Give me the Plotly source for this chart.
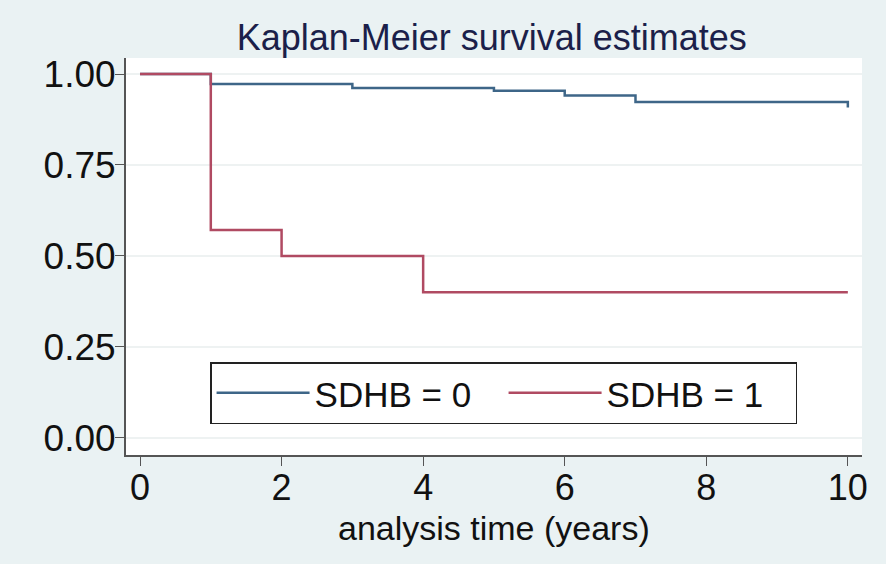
import plotly.graph_objects as go

# Kaplan-Meier step values
time_sdhb0 = [0, 1, 3, 5, 6, 7, 10]
surv_sdhb0 = [1.0, 0.9725, 0.9615, 0.954, 0.941, 0.923, 0.908]

time_sdhb1 = [0, 1, 2, 4, 10]
surv_sdhb1 = [1.0, 0.571, 0.50, 0.40, 0.40]

x_ticks = [0, 2, 4, 6, 8, 10]
y_ticks = [0.0, 0.25, 0.50, 0.75, 1.00]
y_tick_labels = ["0.00", "0.25", "0.50", "0.75", "1.00"]

font_family = "Liberation Sans, Arial, sans-serif"
bg = "#eaf2f3"

fig = go.Figure()
fig.add_trace(go.Scatter(x=time_sdhb0, y=surv_sdhb0, mode="lines", name="SDHB = 0",
                         line=dict(color="#3e6688", width=2.5, shape="hv")))
fig.add_trace(go.Scatter(x=time_sdhb1, y=surv_sdhb1, mode="lines", name="SDHB = 1",
                         line=dict(color="#b04a62", width=2.5, shape="hv")))

fig.update_layout(
    width=886, height=564,
    margin=dict(l=126, r=24, t=58, b=109),
    paper_bgcolor=bg, plot_bgcolor="white",
    font=dict(family=font_family, color="#111111", size=36),
    title=dict(text="Kaplan-Meier survival estimates", x=0.555, xanchor="center",
               y=0.933, yanchor="middle",
               font=dict(size=36, color="#1b1f4a", family=font_family)),
    legend=dict(orientation="h", x=0.513, xanchor="center", y=0.234, yanchor="top",
                bgcolor="white", bordercolor="#222222", borderwidth=1.5,
                font=dict(size=35), entrywidth=184, itemwidth=93,
                tracegroupgap=0),
    showlegend=True,
)
# axis title as a paper annotation so it can sit close to the tick labels
fig.add_annotation(text="analysis time (years)", xref="paper", yref="paper",
                   x=0.5, y=-0.185, xanchor="center", yanchor="middle",
                   showarrow=False, font=dict(size=34))
fig.update_xaxes(range=[-0.198, 10.2], tickvals=x_ticks, ticks="outside", ticklen=9,
                 tickcolor="#555555", showline=True, linecolor="#555555", linewidth=2,
                 showgrid=False, zeroline=False, ticklabelstandoff=-9,
                 tickfont=dict(size=36))
fig.update_yaxes(range=[-0.047, 1.044], tickvals=y_ticks, ticktext=y_tick_labels,
                 ticks="outside", ticklen=9, tickcolor="#555555", showline=True,
                 linecolor="#555555", linewidth=2, showgrid=True, gridcolor="#eef2f2",
                 gridwidth=1.5, zeroline=False, ticklabelstandoff=-8,
                 tickfont=dict(size=37))

fig.write_html("out.html", config={"displayModeBar": False},
               post_script="document.body.style.margin='0';"
                           "document.body.style.background='" + bg + "';")
